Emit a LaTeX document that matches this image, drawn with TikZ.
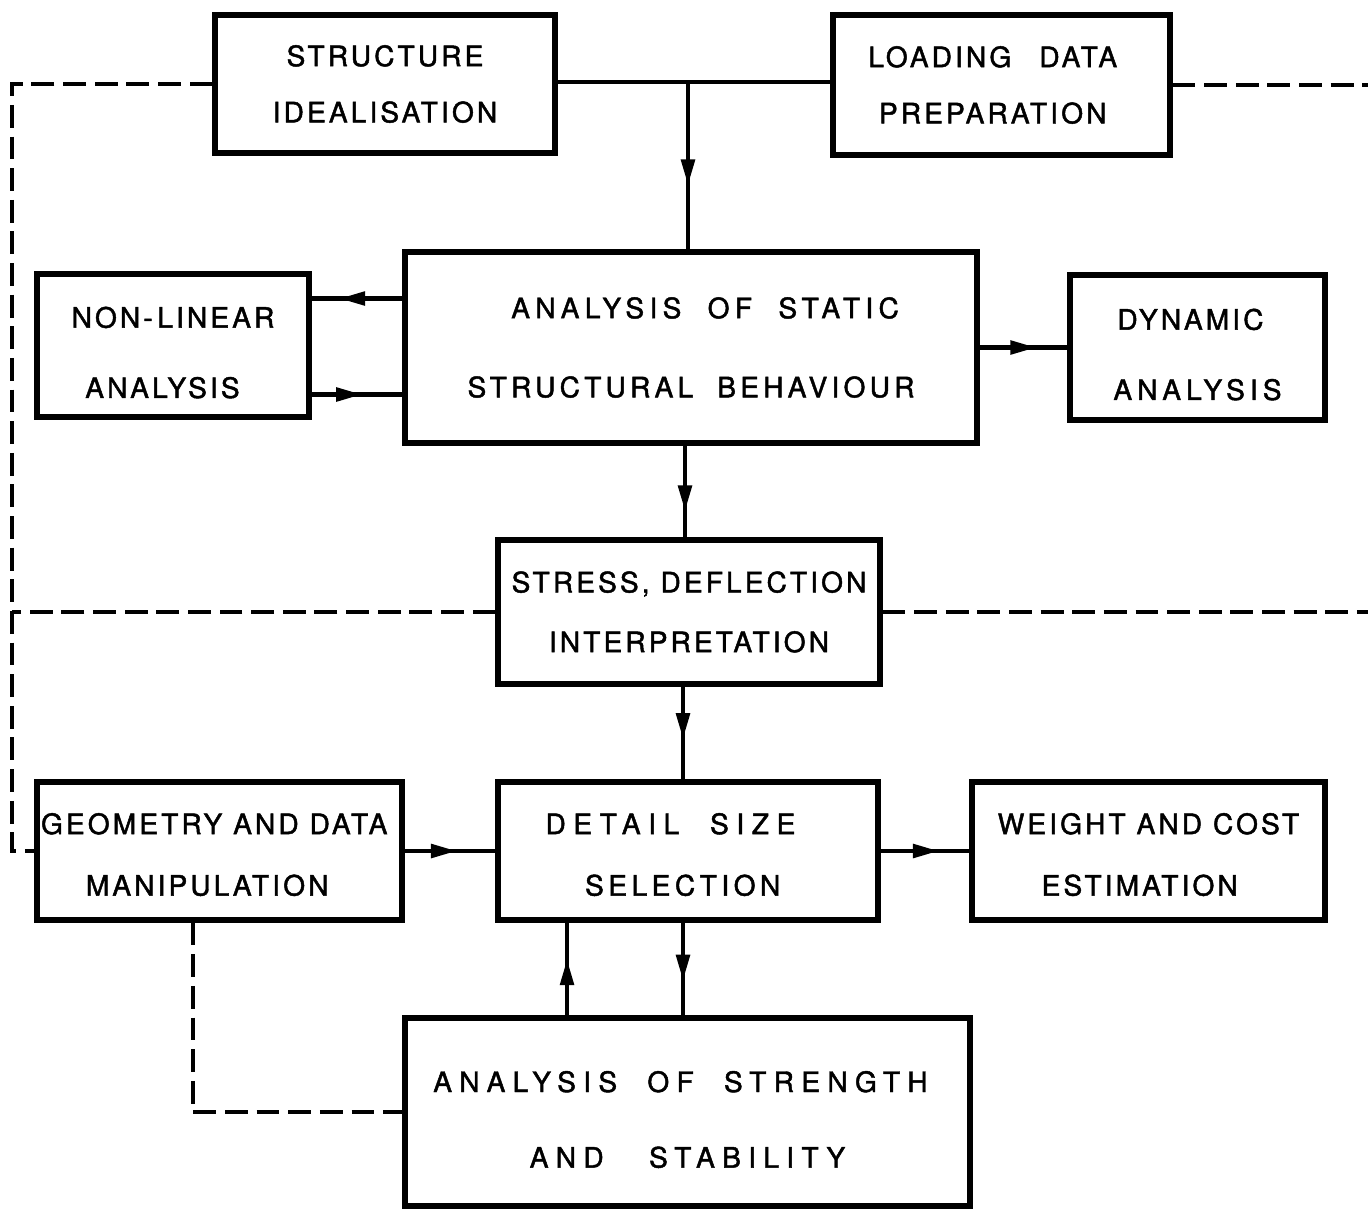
\documentclass[tikz,border=0pt]{standalone}
\usepackage{fontspec}
\setmainfont{TeX Gyre Heros}[LetterSpace=11,FakeBold=1.6]
\usetikzlibrary{arrows.meta,decorations.markings}

\begin{document}
\begin{tikzpicture}[x=0.02cm,y=-0.02cm,font=\fontsize{16}{19}\selectfont,
   box/.style={draw,line width=3pt,align=center,inner sep=0pt},
   flow/.style={line width=2.8pt,postaction={decorate},
     decoration={markings,mark=at position #1 with {\arrow{Triangle[length=15pt,width=7.5pt]}}}},
   flow/.default=0.62,
   link/.style={line width=2pt,dash pattern=on 13pt off 5pt}]
  \useasboundingbox (0,0) rectangle (1368,1208);
  % blocks
  \node[box,minimum width=6.8cm,minimum height=2.76cm]  (ideal)    at (385,84)     {STRUCTURE\\[13pt]IDEALISATION};
  \node[box,minimum width=6.74cm,minimum height=2.8cm]  (load)     at (1001.5,85)  {LOADING\quad DATA\hspace*{10pt}\\[13pt]PREPARATION\hspace*{10pt}};
  \node[box,minimum width=11.44cm,minimum height=3.82cm] (static)  at (691,347.5)  {\hspace*{16pt}{\addfontfeatures{LetterSpace=19}ANALYSIS\ \ OF\ \ STATIC}\\[26pt]{\addfontfeatures{LetterSpace=15}STRUCTURAL\ \ BEHAVIOUR}};
  \node[box,minimum width=5.44cm,minimum height=2.86cm] (nonlin)   at (173,345.5)  {\rule{0pt}{20pt}NON-\,LINEAR\\[21pt]ANALYSIS\hspace*{12pt}};
  \node[box,minimum width=5.1cm,minimum height=2.9cm]   (dyn)      at (1197.5,347.5) {\rule{0pt}{20pt}DYNAMIC\hspace*{8pt}\\[21pt]{\addfontfeatures{LetterSpace=18}ANALYSIS}};
  \node[box,minimum width=7.64cm,minimum height=2.88cm] (stress)   at (689,612)    {STRESS, DEFLECTION\\[15pt]INTERPRETATION};
  \node[box,minimum width=7.3cm,minimum height=2.76cm]  (geom)     at (219.5,851)  {\rule{0pt}{16pt}GEOMETRY AND DATA\hspace*{6pt}\\[16pt]MANIPULATION\hspace*{14pt}};
  \node[box,minimum width=7.6cm,minimum height=2.76cm]  (detail)   at (688,851)    {\rule{0pt}{16pt}{\addfontfeatures{LetterSpace=27}DETAIL\ \ SIZE}\hspace*{20pt}\\[16pt]{\addfontfeatures{LetterSpace=16}SELECTION}\hspace*{6pt}};
  \node[box,minimum width=7.06cm,minimum height=2.76cm] (weight)   at (1148.5,851) {\rule{0pt}{16pt}WEIGHT AND COST\\[16pt]ESTIMATION\hspace*{10pt}};
  \node[box,minimum width=11.3cm,minimum height=3.76cm] (strength) at (687.5,1112) {\rule{0pt}{20.5pt}{\addfontfeatures{LetterSpace=26}ANALYSIS\ \ OF\ \ STRENGTH}\hspace*{8pt}\\[24pt]{\addfontfeatures{LetterSpace=26}AND\ \ \ STABILITY}};
  % frame edges for the dashed links
  \coordinate (lft) at (12,0);
  \coordinate (rgt) at (1368,0);
  \coordinate (join) at (688,82);
  % main flow
  \draw[line width=2.8pt] (ideal.east) ++(0,-2) -- (load.west |- join);
  \draw[flow] (join) -- (join |- static.north);
  \path ([yshift=0.98cm]static.west) coordinate (s1);
  \path ([yshift=-0.94cm]static.west) coordinate (s2);
  \draw[flow=0.7] (s1) -- (s1 -| nonlin.east);
  \draw[flow=0.56] (s2 -| nonlin.east) -- (s2);
  \draw[flow=0.65] (static.east) -- (dyn.west);
  \draw[flow=0.72] ([xshift=-0.12cm]static.south) -- ([xshift=-0.12cm]static.south |- stress.north);
  \draw[flow=0.57] ([xshift=-0.12cm]stress.south) -- ([xshift=-0.12cm]stress.south |- detail.north);
  \draw[flow=0.58] (geom.east) -- (detail.west);
  \draw[flow=0.66] (detail.east) -- (weight.west);
  \path ([xshift=-2.41cm]strength.north) coordinate (u1);
  \path ([xshift=-0.1cm]detail.south) coordinate (d1);
  \draw[flow=0.61] (u1) -- (u1 |- detail.south);
  \draw[flow=0.63] (d1) -- (d1 |- strength.north);
  % dashed links
  \draw[link] (ideal.west) -| (lft |- geom.west) -- (geom.west);
  \draw[link] (load.east) -- (load.east -| rgt);
  \draw[link] (stress.west) -- (stress.west -| lft);
  \draw[link] (stress.east) -- (stress.east -| rgt);
  \draw[link] ([xshift=-0.53cm]geom.south) |- (strength.west);
\end{tikzpicture}
\end{document}
